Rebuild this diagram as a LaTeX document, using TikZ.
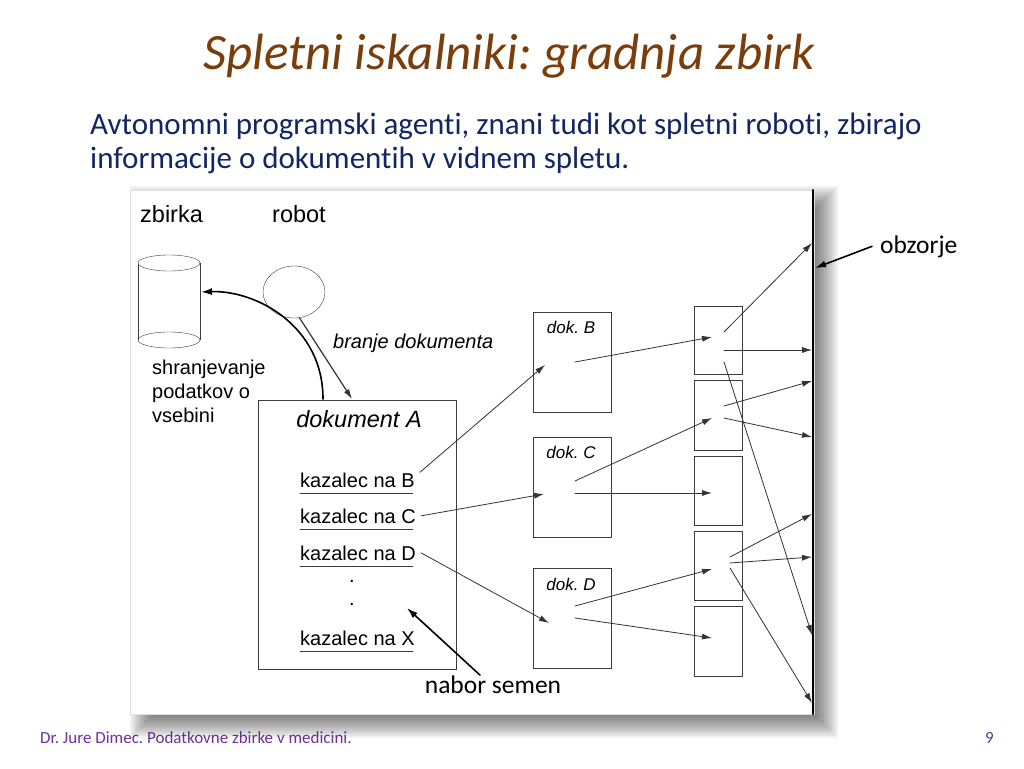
\documentclass[tikz,border=0pt]{standalone}
\usepackage{fontspec}
\setmainfont{Carlito}[Ligatures=NoCommon]
\newfontfamily\diafont{Liberation Sans}
\usetikzlibrary{arrows.meta,shapes.geometric}
\frenchspacing
\definecolor{titlebrown}{RGB}{122,62,12}
\definecolor{textnavy}{RGB}{18,38,100}
\definecolor{footviolet}{RGB}{112,48,160}
\definecolor{boxgray}{RGB}{60,60,60}

\tikzset{
  dia/.style={font=\diafont\fontsize{20}{24}\selectfont,inner sep=0pt,anchor=base west},
  dialbl/.style={font=\diafont\fontsize{23.5}{28}\selectfont,inner sep=0pt,anchor=base west},
  doklbl/.style={font=\diafont\itshape\fontsize{17}{20}\selectfont,inner sep=0pt,anchor=base},
  docbox/.style={draw=boxgray,line width=1pt,fill=white,inner sep=0pt},
  ptr/.style={-{Latex[length=10pt,width=6pt]},line width=0.8pt,draw=black!80},
  callout/.style={-{Latex[length=11pt,width=7pt]},line width=1.6pt},
}

\begin{document}
\begin{tikzpicture}[x=1pt,y=-1pt,line cap=round]
\useasboundingbox (0,0) rectangle (1024,768);
\fill[white] (0,0) rectangle (1024,768);

% slide texts
\node[anchor=base,inner sep=0pt,text=titlebrown,font=\itshape\fontsize{51}{60}\selectfont] (title) at (509,70) {Spletni iskalniki: gradnja zbirk};
\node[anchor=base west,inner sep=0pt,text=textnavy,font=\fontsize{31}{34}\selectfont] (line1) at (90,134) {Avtonomni programski agenti, znani tudi kot spletni roboti, zbirajo};
\node[anchor=base west,inner sep=0pt,text=textnavy,font=\fontsize{31}{34}\selectfont] (line2) at (90,168) {informacije o dokumentih v vidnem spletu.};
\node[anchor=base west,inner sep=0pt,text=footviolet,font=\fontsize{17}{20}\selectfont] (foot) at (40,743) {Dr. Jure Dimec. Podatkovne zbirke v medicini.};
\node[anchor=base east,inner sep=0pt,text=footviolet,font=\fontsize{17}{20}\selectfont] (pagenum) at (994,743) {9};

% picture with its shadow
\foreach \e in {-14,-12,...,14}
  \fill[black,opacity=0.05] ({144-\e},{200-\e}) rectangle ({824+\e},{724+\e});
\draw[fill=white,draw=black!12] (130,190) rectangle (814,714);
\draw[line width=2pt] (813,190) -- (813,714);

% zbirka and robot
\node[dialbl] (zbirkalbl) at (140,222) {zbirka};
\node[dialbl] (robotlbl) at (272,222) {robot};
\draw[boxgray] (138,263) -- (138,340);
\draw[boxgray] (200,263) -- (200,340);
\draw[boxgray,fill=white] (169,263) ellipse [x radius=31,y radius=8];
\draw[boxgray] (169,340) ellipse [x radius=31,y radius=8];
\coordinate (cylR) at (201,292);
\node[draw=boxgray,ellipse,minimum width=62,minimum height=52,inner sep=0pt] (robot) at (294,292) {};

\node[dia,font=\diafont\itshape\fontsize{20}{24}\selectfont] (readlbl) at (333,348) {branje dokumenta};
\node[dia] (store1) at (152,374) {shranjevanje};
\node[dia] (store2) at (152,398) {podatkov o};
\node[dia] (store3) at (152,422) {vsebini};

% dokument A
\node[docbox,minimum width=198,minimum height=269] (docA) at (357,534.5) {};
\node[dialbl,anchor=base,font=\diafont\itshape\fontsize{23.5}{28}\selectfont] (docAlbl) at (359,427) {dokument A};
\foreach \k/\y in {B/487,C/523,D/560,X/645} {
  \node[dia] (k\k) at (300,\y) {kazalec na \k};
  \draw[boxgray] (300,\y+6) -- (413,\y+6);
}
\node[dia,anchor=center] (dot1) at (352,581) {.};
\node[dia,anchor=center] (dot2) at (352,604) {.};
\coordinate (readend) at (352,399);
\coordinate (storestart) at (323,399);
\draw[ptr,line width=1.2pt] (robot.-78) -- (readend);
\draw[callout] (storestart) .. controls (323,325) and (255,290) .. (cylR);

% dok. B, C, D
\foreach \n/\y/\b in {B/362.5/333,C/487.5/458,D/618.5/590} {
  \node[docbox,minimum width=78,minimum height=100] (doc\n) at (572,\y) {};
  \node[doklbl] (doc\n lbl) at (571,\b) {dok. \n};
}
\coordinate (Bin) at (545,365);
\coordinate (Cin) at (544,494);
\coordinate (Din) at (549,623);
\draw[ptr] ([xshift=5pt]kB.north east) -- (Bin);
\draw[ptr] ([xshift=5pt]kC.east) -- (Cin);
\draw[ptr] ([xshift=5pt]kD.east) -- (Din);

% right column
\foreach \i/\y/\h in {1/340/68,2/415/70,3/490.5/69,4/565.5/69,5/641/70}
  \node[docbox,minimum width=48,minimum height=\h] (r\i) at (718,\y) {};
\coordinate (r1in) at (712,337);
\coordinate (r2in) at (712,418);
\coordinate (r3in) at (712,493);
\coordinate (r4in) at (712,569);
\coordinate (r5in) at (712,638);
\draw[ptr] (575,362) coordinate (Bout) -- (r1in);
\draw[ptr] (575,481) coordinate (Cout1) -- (r2in);
\draw[ptr] (575,493) coordinate (Cout2) -- (r3in);
\draw[ptr] (575,606) coordinate (Dout1) -- (r4in);
\draw[ptr] (575,618) coordinate (Dout2) -- (r5in);

% links to the horizon
\foreach \j/\y in {1/243,2/350,3/381,4/437,5/514,6/557,7/635,8/703}
  \coordinate (h\j) at (812,\y);
\draw[ptr] (724,332) coordinate (r1o1) -- (h1);
\draw[ptr] (724,350) coordinate (r1o2) -- (h2);
\draw[ptr] (724,362) coordinate (r1o3) -- (h7);
\draw[ptr] (724,406) coordinate (r2o1) -- (h3);
\draw[ptr] (724,418) coordinate (r2o2) -- (h4);
\draw[ptr] (730,557) coordinate (r4o1) -- (h5);
\draw[ptr] (730,563) coordinate (r4o2) -- (h6);
\draw[ptr] (730,568) coordinate (r4o3) -- (h8);

% callouts
\node[anchor=base west,inner sep=0pt,font=\fontsize{25.5}{30}\selectfont] (obz) at (880,253) {obzorje};
\coordinate (hzpt) at (815,268);
\draw[callout] ([xshift=-8pt]obz.west) -- (hzpt);
\node[anchor=base,inner sep=0pt,font=\fontsize{25.5}{30}\selectfont] (seeds) at (493,693) {nabor semen};
\coordinate (seedtip) at (407,608);
\draw[callout] ([xshift=-13pt]seeds.north) -- (seedtip);
\end{tikzpicture}
\end{document}
